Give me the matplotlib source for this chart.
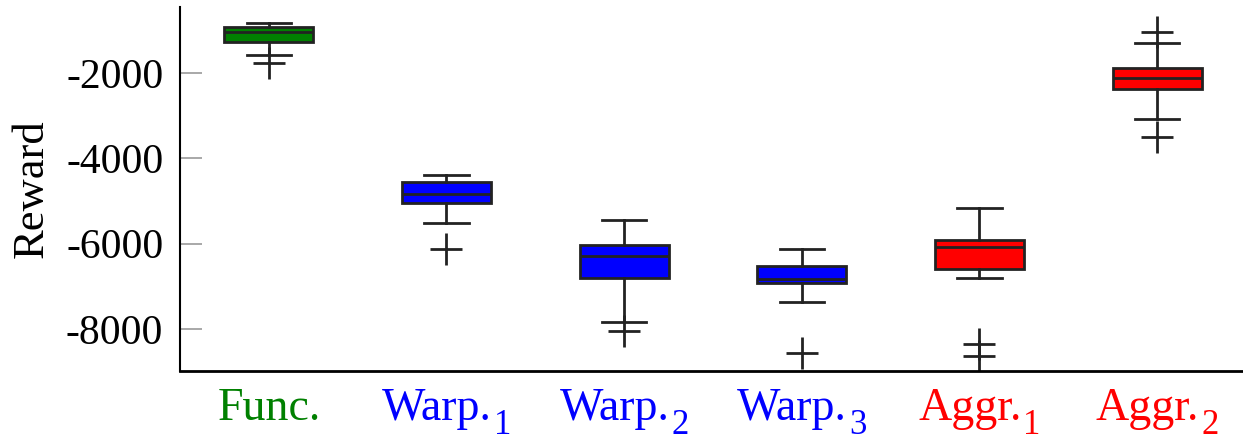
import matplotlib
matplotlib.use("Agg")
import matplotlib.pyplot as plt

plt.rcParams["font.family"] = ["Liberation Serif", "DejaVu Serif"]

# values
names = ["Func.", "Warp.", "Warp.", "Warp.", "Aggr.", "Aggr."]
subs = ["", "1", "2", "3", "1", "2"]
label_colors = ["green", "blue", "blue", "blue", "red", "red"]
box_colors = ["#008000", "#0000ff", "#0000ff", "#0000ff", "#ff0000", "#ff0000"]
medians = [-1046, -4829, -6297, -6829, -6086, -2124]
q1 = [-1273, -5040, -6812, -6922, -6594, -2382]
q3 = [-915, -4555, -6039, -6524, -5914, -1890]
whisk_lo = [-1585, -5516, -7844, -7360, -6805, -3078]
whisk_hi = [-835, -4398, -5439, -6118, -5157, -1304]
outliers = [[-1760], [-6125], [-8048], [-8563], [-8360, -8627], [-1046, -3500]]
yticks = [-2000, -4000, -6000, -8000]

stats = []
for i in range(len(names)):
    stats.append({"med": medians[i], "q1": q1[i], "q3": q3[i],
                  "whislo": whisk_lo[i], "whishi": whisk_hi[i],
                  "fliers": outliers[i]})

W, H = 1243, 443
fig = plt.figure(figsize=(W / 100, H / 100), dpi=100)
ax = fig.add_axes([0.1448, 0.1625, 0.8576, 0.8217])

edge = "#222222"
bp = ax.bxp(stats, positions=range(1, 7), widths=0.5, patch_artist=True,
            boxprops=dict(edgecolor=edge, linewidth=2),
            medianprops=dict(color=edge, linewidth=2),
            whiskerprops=dict(color=edge, linewidth=2),
            capprops=dict(color=edge, linewidth=2),
            flierprops=dict(marker="+", markersize=23, markeredgewidth=2,
                            markeredgecolor=edge))
for patch, c in zip(bp["boxes"], box_colors):
    patch.set_facecolor(c)

ax.set_xlim(0.5, 6.5)
ax.set_ylim(-8985, -453)
ax.set_yticks(yticks)
ax.set_yticklabels([str(v) for v in yticks])
ax.set_xticks(range(1, 7))
ax.set_xticklabels([])

ax.tick_params(axis="y", direction="in", length=16, width=1.2, color="#999999",
               labelsize=30, pad=12)
ax.tick_params(axis="x", length=0)
ax.set_ylabel("Reward", fontsize=32, labelpad=10)

ax.spines["top"].set_visible(False)
ax.spines["right"].set_visible(False)
ax.spines["left"].set_linewidth(1.5)
ax.spines["bottom"].set_linewidth(2)

# category labels with big, low subscripts (as in the reference)
renderer = fig.canvas.get_renderer()
base_y = 23 / H
sub_y = 9 / H
gap = 2
for i, (name, sub, c) in enumerate(zip(names, subs, label_colors)):
    cx = ax.transData.transform((i + 1, 0))[0]
    tm = fig.text(0, base_y, name, fontsize=33, color=c, va="baseline", ha="left")
    wm = tm.get_window_extent(renderer).width
    ws = 0
    ts = None
    if sub:
        ts = fig.text(0, sub_y, sub, fontsize=25, color=c, va="baseline", ha="left")
        ws = ts.get_window_extent(renderer).width + gap
    left = cx - (wm + ws) / 2
    tm.set_x(left / W)
    if ts is not None:
        ts.set_x((left + wm + gap) / W)

fig.savefig("out.png", dpi=100)
